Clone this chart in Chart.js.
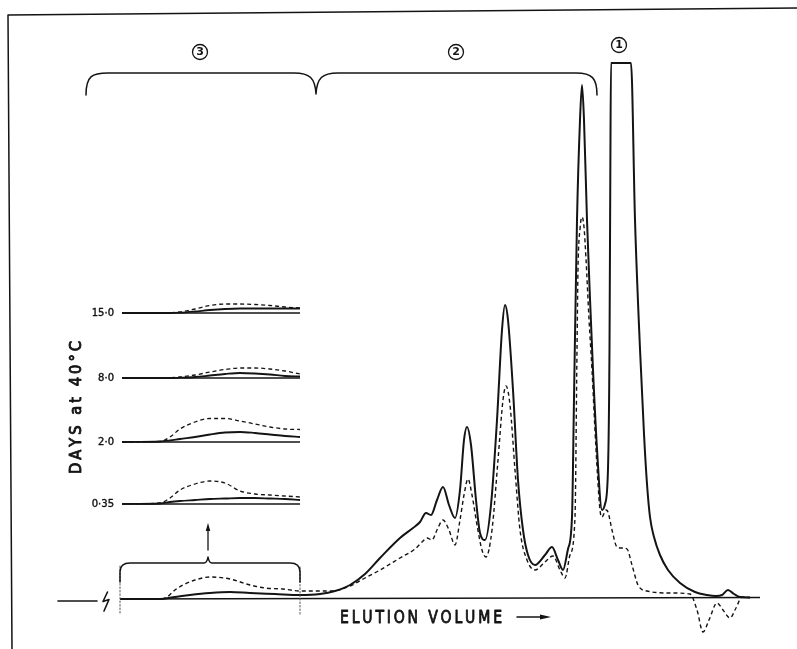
<!DOCTYPE html>
<html>
<head>
<meta charset="utf-8">
<script src="https://cdn.jsdelivr.net/npm/chart.js@4/dist/chart.umd.min.js"></script>
<style>
  html, body { margin: 0; background: #fff; }
  canvas { display: block; }
</style>
</head>
<body>
<canvas id="chart" width="797" height="649"></canvas>
<script>
// elution volume (arbitrary units) against absorbance above baseline (arbitrary units)
const solidVol = [120, 160, 175, 190, 210, 230, 250, 275, 300, 320, 335, 350, 365, 380, 400, 413, 420, 426, 431, 437,
  443, 449, 455, 460, 464, 467, 471, 476, 480, 485, 491, 497, 502, 505, 508, 513, 518, 523, 528, 535,
  545, 552, 558, 563, 568, 572, 574, 577, 580, 582, 584, 587, 590, 593, 597, 602, 605, 608, 609.5, 610.3,
  611, 631, 635, 640, 644, 647, 650, 654, 660, 668, 680, 695, 707, 716, 722, 728, 734, 740, 750];
const solidAbs = [0, 0, 2, 4, 6, 7, 6, 5, 4, 5, 8, 14, 25, 41, 61, 71, 77, 86, 84, 99,
  112, 94, 81, 109, 159, 172, 154, 99, 66, 59, 94, 179, 269, 294, 279, 209, 119, 69, 44, 34,
  44, 52, 39, 29, 50, 82, 200, 379, 479, 514, 479, 379, 300, 229, 150, 89, 95, 130, 250, 420,
  536, 536, 379, 250, 165, 115, 82, 62, 44, 29, 16, 7, 4, 3, 4, 9, 5, 2, 1.5];

const dashVol = [120, 160, 167, 175, 183, 195, 210, 230, 250, 265, 283, 300, 333, 350, 365, 380, 400, 415, 423, 427,
  432, 437, 443, 449, 455, 460, 464, 468, 472, 477, 482, 486, 492, 498, 503, 506, 510, 515, 520, 527,
  535, 545, 553, 560, 565, 570, 575, 577, 578, 580, 582, 584, 586, 589, 592, 596, 600, 602, 606, 608,
  612, 617, 622, 627, 632, 638, 647, 670, 690, 697, 703, 709, 717, 723, 730, 736, 742, 750];
const dashAbs = [0, 0, 2, 9, 14, 19, 22, 20, 14, 11, 10, 8, 8, 13, 21, 29, 41, 50, 58, 61,
  59, 69, 79, 69, 54, 79, 104, 120, 104, 74, 49, 42, 69, 139, 199, 213, 194, 129, 69, 39,
  29, 37, 43, 29, 21, 44, 82, 250, 330, 370, 382, 372, 340, 280, 229, 150, 89, 82, 89, 87,
  69, 52, 51, 50, 34, 14, 8, 6, 5, -11, -33, -21, -4, -11, -19, -9, 2, 1.5];

const baseVol = [120, 760];
const baseAbs = [0, 1.5];

// inset: region 3 redrawn for each storage time (days at 40 °C)
const insetDays = ['15·0', '8·0', '2·0', '0·35'];
const insetVol = [122, 160, 170, 180, 195, 210, 225, 240, 255, 270, 285, 300];
const insetSolid = [
  [0, 0, 0, 0.3, 1.5, 3, 4, 4.5, 4.5, 4.5, 4.5, 4.5],
  [0, 0, 0, 0.3, 1, 2.5, 4, 5, 4.5, 3.5, 2, 1.5],
  [0, 0.5, 1.5, 3, 5, 7.5, 9.5, 10, 9, 7.5, 6, 5],
  [0, 0.5, 2, 3, 4, 5, 5.5, 6, 6, 5.5, 5, 4]
];
const insetDash = [
  [0, 0, 0.3, 1, 4, 7.5, 9, 9, 8.5, 7.5, 6, 5],
  [0, 0, 0.3, 1, 3, 6, 8.5, 10, 10, 9, 7, 4],
  [0, 0.5, 5, 13, 20, 23.5, 23.5, 21, 18, 15, 13, 12.5],
  [0, 1, 6, 14, 20, 23, 21, 13, 10, 9, 8, 7]
];

// layout: pixel row of each inset baseline
const insetRows = [313, 378, 442, 504];

const ink = '#141414';
const pts = (xs, ys) => xs.map((v, i) => ({ x: v, y: ys[i] }));

const datasets = [
  { data: pts(baseVol, baseAbs), borderColor: ink, borderWidth: 1.6 },
  { data: pts(dashVol, dashAbs), borderColor: ink, borderWidth: 1.4, borderDash: [4, 3] },
  { data: pts(solidVol, solidAbs), borderColor: ink, borderWidth: 2 }
];
const scales = {
  x: { type: 'linear', min: 0, max: 797, display: false },
  y: { type: 'linear', min: -50, max: 599, display: false }
};
insetDays.forEach((d, i) => {
  const id = 'd' + i, row = insetRows[i];
  scales[id] = { type: 'linear', min: row - 649, max: row, display: false };
  datasets.push({ data: pts([122, 300], [0, 0]), yAxisID: id, borderColor: ink, borderWidth: 1.5 });
  datasets.push({ data: pts(insetVol, insetDash[i]), yAxisID: id, borderColor: ink, borderWidth: 1.3, borderDash: [4, 3] });
  datasets.push({ data: pts(insetVol, insetSolid[i]), yAxisID: id, borderColor: ink, borderWidth: 1.8 });
});

// stencil-lettering look: narrowed glyphs with a thin outline, spread to a given width
function spaced(ctx, text, x0, y0, width, squeeze) {
  const chars = [...text];
  const ws = chars.map(c => ctx.measureText(c).width * squeeze);
  const gap = (width - ws.reduce((a, b) => a + b, 0)) / (chars.length - 1);
  let cx = x0;
  chars.forEach((c, i) => {
    ctx.save();
    ctx.translate(cx, y0);
    ctx.scale(squeeze, 1);
    ctx.fillText(c, 0, 0);
    ctx.strokeText(c, 0, 0);
    ctx.restore();
    cx += ws[i] + gap;
  });
}

const decor = {
  id: 'decor',
  afterDatasetsDraw(chart) {
    const ctx = chart.ctx;
    const X = v => chart.scales.x.getPixelForValue(v);
    ctx.save();
    ctx.strokeStyle = ink;
    ctx.fillStyle = ink;
    ctx.lineCap = 'round';
    ctx.lineJoin = 'round';

    // frame
    ctx.lineWidth = 1.5;
    ctx.beginPath();
    ctx.moveTo(797, 8); ctx.lineTo(8, 15); ctx.lineTo(12, 649);
    ctx.stroke();

    // baseline stub and break mark
    ctx.lineWidth = 1.6;
    ctx.beginPath();
    ctx.moveTo(X(58), 601); ctx.lineTo(X(97), 601);
    ctx.moveTo(X(107.5), 592); ctx.lineTo(X(103), 601.5); ctx.lineTo(X(109), 599.5); ctx.lineTo(X(104), 611);
    ctx.stroke();

    // top braces
    ctx.lineWidth = 1.5;
    ctx.beginPath();
    ctx.moveTo(X(86), 95);
    ctx.bezierCurveTo(X(86), 76, X(92), 73, X(108), 73);
    ctx.lineTo(X(294), 73);
    ctx.bezierCurveTo(X(310), 73, X(315), 78, X(316), 94);
    ctx.bezierCurveTo(X(317), 78, X(322), 73, X(338), 73);
    ctx.lineTo(X(576), 73);
    ctx.bezierCurveTo(X(592), 73, X(597), 78, X(597), 95);
    ctx.stroke();

    // circled region numbers
    [['3', 200, 52], ['2', 456, 52], ['1', 619, 45]].forEach(([t, cx, cy]) => {
      ctx.lineWidth = 1.3;
      ctx.beginPath();
      ctx.arc(X(cx), cy, 7.5, 0, Math.PI * 2);
      ctx.stroke();
      ctx.font = 'bold 11px "DejaVu Sans"';
      ctx.textAlign = 'center';
      ctx.textBaseline = 'middle';
      ctx.fillText(t, X(cx), cy + 0.5);
    });

    // dotted limits of region 3
    ctx.save();
    ctx.lineWidth = 1;
    ctx.strokeStyle = '#555';
    ctx.setLineDash([1.5, 2]);
    ctx.beginPath();
    ctx.moveTo(X(120), 566); ctx.lineTo(X(120), 615);
    ctx.moveTo(X(300), 567); ctx.lineTo(X(300), 615);
    ctx.stroke();
    ctx.restore();

    // lower bracket with arrow to inset
    ctx.lineWidth = 1.5;
    ctx.beginPath();
    ctx.moveTo(X(120), 582);
    ctx.lineTo(X(120), 572);
    ctx.quadraticCurveTo(X(120), 563, X(130), 563);
    ctx.lineTo(X(204), 563);
    ctx.quadraticCurveTo(X(207), 563, X(208), 557);
    ctx.quadraticCurveTo(X(209), 563, X(212), 563);
    ctx.lineTo(X(290), 563);
    ctx.quadraticCurveTo(X(300), 563, X(300), 572);
    ctx.lineTo(X(300), 582);
    ctx.stroke();
    ctx.lineWidth = 1.3;
    ctx.beginPath();
    ctx.moveTo(X(208), 550); ctx.lineTo(X(208), 527);
    ctx.stroke();
    ctx.beginPath();
    ctx.moveTo(X(208), 523); ctx.lineTo(X(210.3), 531); ctx.lineTo(X(205.7), 531);
    ctx.closePath(); ctx.fill();

    // inset labels
    ctx.font = '10px "DejaVu Sans"';
    ctx.lineWidth = 0.4;
    ctx.textAlign = 'right';
    ctx.textBaseline = 'middle';
    insetDays.forEach((d, i) => {
      ctx.fillText(d, 114, insetRows[i] + 0.5);
      ctx.strokeText(d, 114, insetRows[i] + 0.5);
    });

    ctx.textAlign = 'left';
    ctx.textBaseline = 'alphabetic';
    ctx.save();
    ctx.translate(81, 474);
    ctx.rotate(-Math.PI / 2);
    ctx.font = '16px "DejaVu Sans"';
    ctx.lineWidth = 0.9;
    spaced(ctx, 'DAYS at 40°C', 0, 0, 133, 0.92);
    ctx.restore();

    // axis title
    ctx.font = '18px "DejaVu Sans"';
    ctx.lineWidth = 0.9;
    spaced(ctx, 'ELUTION VOLUME', 340, 623, 162, 0.78);
    ctx.lineWidth = 1.5;
    ctx.beginPath();
    ctx.moveTo(517, 617); ctx.lineTo(542, 617);
    ctx.stroke();
    ctx.beginPath();
    ctx.moveTo(551, 617); ctx.lineTo(540, 614.5); ctx.lineTo(540, 619.5);
    ctx.closePath(); ctx.fill();

    ctx.restore();
  }
};

new Chart(document.getElementById('chart'), {
  type: 'line',
  data: { datasets },
  options: {
    responsive: false,
    animation: false,
    layout: { padding: 0 },
    elements: {
      point: { radius: 0 },
      line: { cubicInterpolationMode: 'monotone', fill: false }
    },
    plugins: { legend: { display: false }, tooltip: { enabled: false } },
    scales
  },
  plugins: [decor]
});
</script>
</body>
</html>
